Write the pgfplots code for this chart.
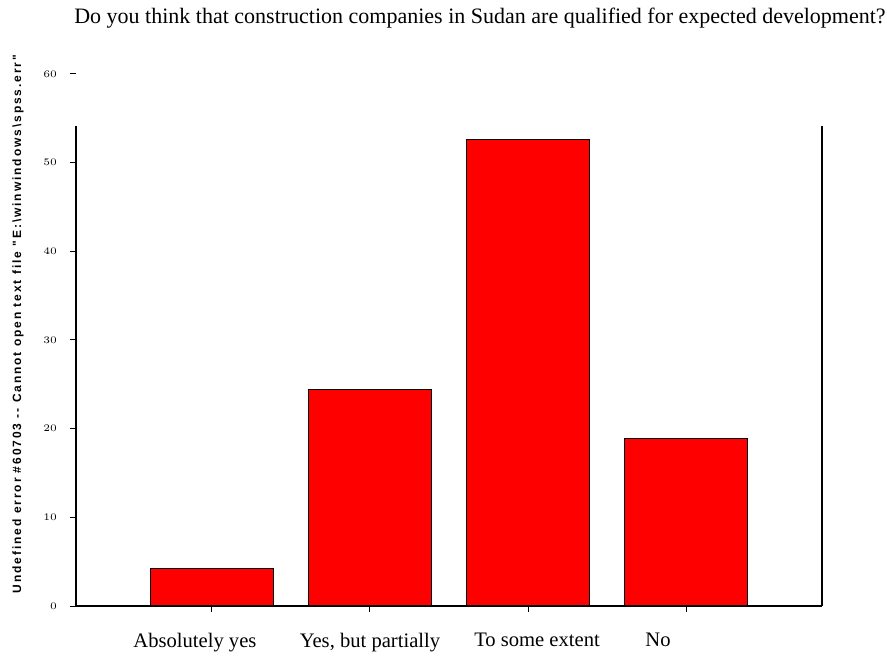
\documentclass[border=0pt]{standalone}
\usepackage{fontspec}
\setmainfont{Liberation Serif}
\newfontfamily\labfont[LetterSpace=16]{Liberation Sans}
\usepackage{pgfplots}
\pgfplotsset{compat=1.18}
\begin{document}
\begin{tikzpicture}
\begin{axis}[
  scale only axis,
  width=373pt, height=266pt,
  xmin=-0.86, xmax=3.86,
  ymin=0, ymax=60,
  axis x line*=bottom,
  axis y line*=left,
  y axis line style={draw=none},
  x axis line style={-, line width=0.6pt},
  tick align=outside,
  major tick length=3pt,
  tick style={black, line width=0.5pt},
  xtick={0,1,2,3},
  xticklabels={{\hspace*{-17pt}Absolutely yes}, {Yes, but partially}, {To some extent\hspace*{-9pt}}, {\hspace*{-28pt}No}},
  xticklabel style={font=\fontsize{10.3}{12}\selectfont, yshift=-7pt},
  ytick={0,10,20,30,40,50,60},
  yticklabel style={font=\fontsize{5.5}{6}\selectfont\bfseries, xshift=-3pt},
  clip=false,
]
\addplot[ybar, bar width=0.78, fill=red, draw=black, line width=0.6pt]
  coordinates {(0,4.2) (1,24.4) (2,52.6) (3,18.9)};
\draw[line width=0.6pt] (rel axis cs:0,0) -- (rel axis cs:0,0.903);
\draw[line width=0.6pt] (rel axis cs:1,0) -- (rel axis cs:1,0.903);
\coordinate (ll) at (rel axis cs:0,0);
\coordinate (ur) at (rel axis cs:1,1);
\node[font=\fontsize{11}{13}\selectfont] at ([shift={(15.5pt,28pt)}]rel axis cs:0.5,1)
  {Do you think that construction companies in Sudan are qualified for expected development?};
\node[rotate=90, font=\labfont\bfseries\fontsize{6}{7}\selectfont] at ([xshift=-29pt]rel axis cs:0,0.53)
  {Undefined error \#60703 -- Cannot open text file "E:\textbackslash winwindows\textbackslash spss.err"};
\end{axis}
\pgfresetboundingbox
\path ([shift={(-38pt,-25.5pt)}]ll) rectangle ([shift={(32.5pt,37pt)}]ur);
\end{tikzpicture}
\end{document}
